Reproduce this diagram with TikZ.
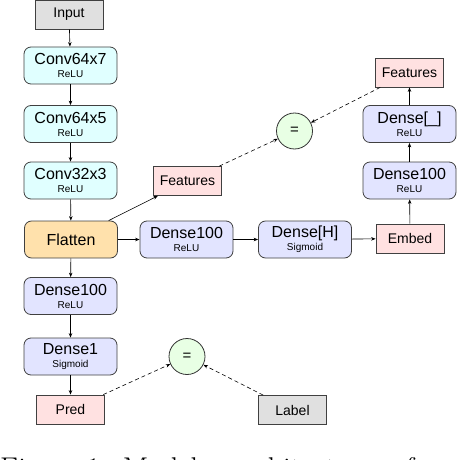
\documentclass[tikz,border=0pt]{standalone}
\usepackage{fontspec}
\newfontfamily\helv{Liberation Sans}
\usetikzlibrary{arrows.meta}
\definecolor{convcol}{RGB}{224,255,255}
\definecolor{densecol}{RGB}{226,228,255}
\definecolor{flatcol}{RGB}{255,225,172}
\definecolor{tenscol}{RGB}{255,225,225}
\definecolor{iocol}{RGB}{224,224,224}
\definecolor{eqcol}{RGB}{232,255,228}
\tikzset{
	layer/.style={draw=black!75, line width=0.8pt, rounded corners=7pt, minimum width=93pt, minimum height=37pt, inner sep=0pt, align=center, font=\helv\fontsize{16}{13}\selectfont},
	tensor/.style={draw=black!75, line width=0.8pt, minimum width=68pt, minimum height=29pt, inner sep=0pt, font=\helv\fontsize{14}{14}\selectfont},
	cmp/.style={draw=black!80, line width=0.8pt, circle, fill=eqcol, minimum size=36pt, inner sep=0pt, font=\helv\fontsize{15}{15}\selectfont},
	flow/.style={-{Stealth[length=4.5pt,width=3.5pt]}, line width=0.6pt},
	match/.style={flow, dash pattern=on 4pt off 3pt}
}
\newcommand{\act}[1]{\\{\fontsize{10}{10}\selectfont #1}}
\begin{document}
\begin{tikzpicture}[x=1pt,y=-1pt]
	\useasboundingbox (0,0) rectangle (456,460);
	% encoder column
	\node[tensor, fill=iocol] (in) at (69,14.5) {Input};
	\node[layer, fill=convcol] (c1) at (70.5,65.5) {Conv64x7\act{ReLU}};
	\node[layer, fill=convcol] (c2) at (70.5,124) {Conv64x5\act{ReLU}};
	\node[layer, fill=convcol] (c3) at (70.5,180.5) {Conv32x3\act{ReLU}};
	\node[layer, fill=flatcol] (flat) at (71,239.5) {Flatten};
	\node[layer, fill=densecol] (d1) at (70.5,296) {Dense100\act{ReLU}};
	\node[layer, fill=densecol] (d2) at (70.5,356.5) {Dense1\act{Sigmoid}};
	\node[tensor, fill=tenscol] (pred) at (70.5,409.5) {Pred};
	\node[tensor, fill=iocol] (lab) at (292.5,410) {Label};
	\node[cmp] (eq2) at (187,356.5) {=};
	% embedding branch
	\node[tensor, fill=tenscol] (feat1) at (187.5,181) {Features};
	\node[layer, fill=densecol] (e1) at (186.5,239.5) {Dense100\act{ReLU}};
	\node[layer, fill=densecol] (e2) at (305,239.5) {Dense[H]\act{Sigmoid}};
	\node[tensor, fill=tenscol] (emb) at (410,238.5) {Embed};
	\node[layer, fill=densecol] (r1) at (409.5,180.5) {Dense100\act{ReLU}};
	\node[layer, fill=densecol] (r2) at (409.5,124) {Dense[\_]\act{ReLU}};
	\node[tensor, fill=tenscol] (feat2) at (409.5,72.5) {Features};
	\node[cmp] (eq1) at (294.5,131) {=};

	\draw[flow] (in) -- (c1);
	\draw[flow] (c1) -- (c2);
	\draw[flow] (c2) -- (c3);
	\draw[flow] (c3) -- (flat);
	\draw[flow] (flat) -- (d1);
	\draw[flow] (d1) -- (d2);
	\draw[flow] (d2) -- (pred);
	\draw[flow] (flat) -- (feat1);
	\draw[flow] (flat) -- (e1);
	\draw[flow] (e1) -- (e2);
	\draw[flow] (e2) -- (emb);
	\draw[flow] (emb) -- (r1);
	\draw[flow] (r1) -- (r2);
	\draw[flow] (r2) -- (feat2);
	\draw[match] (feat1) -- (eq1);
	\draw[match] (feat2) -- (eq1);
	\draw[match] (pred) -- (eq2);
	\draw[match] (lab) -- (eq2);

	\node[anchor=base west, inner sep=0pt, font=\fontsize{30}{30}\selectfont] (cap) at (0,478) {Figure 1:\hspace{15pt}Model\hspace{34pt}architecture\hspace{18pt}of};
\end{tikzpicture}
\end{document}
